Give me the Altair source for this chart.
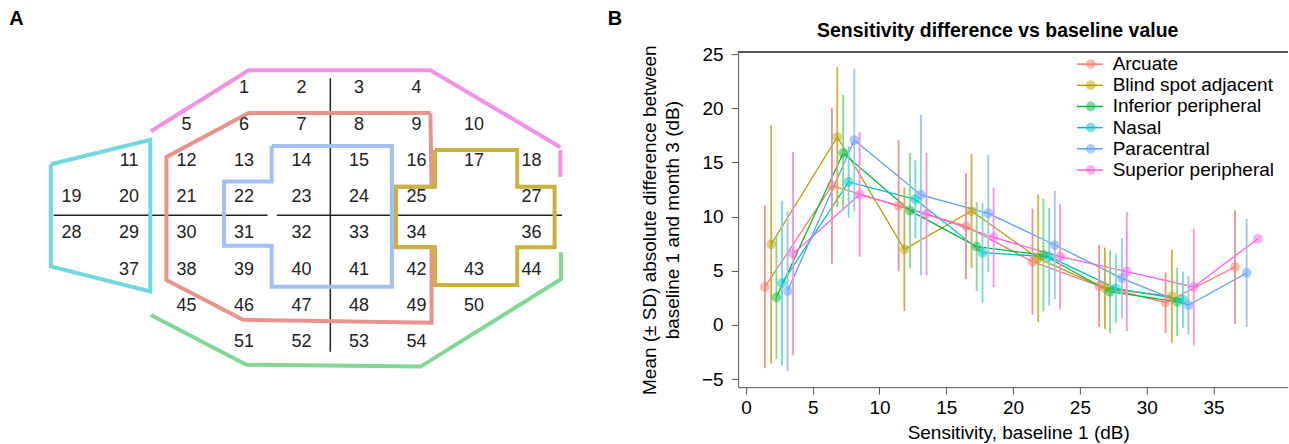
import altair as alt
import pandas as pd

FONT = "Liberation Sans, Arial, Helvetica, sans-serif"
NUM_FONT = "Liberation Sans Narrow, Arial Narrow, Liberation Sans, Arial, sans-serif"

# ---------------- Panel B data ----------------
series_names = ["Arcuate", "Blind spot adjacent", "Inferior peripheral",
                "Nasal", "Paracentral", "Superior peripheral"]
series_colors = ["#F8766D", "#B79F00", "#00BA38", "#00BFC4", "#619CFF", "#F564E3"]

arcuate_x = [1.42, 6.44, 11.43, 16.47, 21.45, 26.44, 31.41, 36.61]
arcuate_mean = [3.51, 12.86, 11.00, 9.13, 5.84, 3.60, 2.06, 5.35]
arcuate_sd = [7.5, 7.2, 6.05, 4.9, 4.9, 3.8, 2.8, 5.25]

blind_x = [1.89, 6.84, 11.86, 16.89, 21.88, 26.87, 31.88]
blind_mean = [7.44, 17.35, 6.98, 10.52, 6.15, 3.39, 2.65]
blind_sd = [11.0, 6.46, 5.7, 5.27, 5.9, 3.75, 4.3]

inferior_x = [2.28, 7.28, 12.28, 17.27, 22.27, 27.26, 32.28]
inferior_mean = [2.55, 15.88, 10.55, 7.23, 6.46, 3.07, 2.13]
inferior_sd = [5.7, 5.35, 5.33, 4.1, 5.2, 3.8, 3.15]

nasal_x = [2.70, 7.69, 12.68, 17.71, 22.70, 27.69, 32.71]
nasal_mean = [3.86, 13.20, 11.60, 6.67, 6.30, 3.39, 2.34]
nasal_sd = [7.6, 3.3, 3.6, 4.6, 4.5, 3.2, 2.6]

para_x = [3.12, 8.11, 13.10, 18.14, 23.12, 28.14, 33.12, 37.48]
para_mean = [3.13, 17.07, 12.00, 10.30, 7.38, 4.31, 1.82, 4.80]
para_sd = [7.4, 6.6, 7.4, 5.4, 5.0, 3.7, 2.7, 5.0]

sup_x = [3.53, 8.51, 13.52, 18.54, 23.52, 28.51, 33.52, 38.32]
sup_mean = [6.58, 12.05, 10.24, 8.09, 6.30, 4.92, 3.51, 7.96]
sup_sd = [9.4, 5.75, 5.66, 4.6, 4.86, 5.5, 5.4, None]

y_ticks = [-5, 0, 5, 10, 15, 20, 25]
x_ticks = [0, 5, 10, 15, 20, 25, 30, 35]

# ---------------- Panel A data (grid units: column c, row r) ----------------
number_rows = [
    ([1, 2, 3, 4], [3, 4, 5, 6]),
    ([5, 6, 7, 8, 9, 10], [2, 3, 4, 5, 6, 7]),
    ([11, 12, 13, 14, 15, 16, 17, 18], [1, 2, 3, 4, 5, 6, 7, 8]),
    ([19, 20, 21, 22, 23, 24, 25, 27], [0, 1, 2, 3, 4, 5, 6, 8]),
    ([28, 29, 30, 31, 32, 33, 34, 36], [0, 1, 2, 3, 4, 5, 6, 8]),
    ([37, 38, 39, 40, 41, 42, 43, 44], [1, 2, 3, 4, 5, 6, 7, 8]),
    ([45, 46, 47, 48, 49, 50], [2, 3, 4, 5, 6, 7]),
    ([51, 52, 53, 54], [3, 4, 5, 6]),
]

outline_pink_1 = [(1.38, 1.18), (3.08, -0.5), (6.24, -0.5), (8.5, 1.62)]
outline_pink_2 = [(8.5, 1.70), (8.5, 2.44)]
outline_green = [(1.38, 6.25), (3.04, 7.62), (6.07, 7.67), (8.51, 5.26), (8.51, 4.52)]
outline_cyan = [(-0.36, 2.09), (1.37, 1.42), (1.37, 5.60), (-0.36, 4.91), (-0.36, 2.09)]
outline_red = [(6.24, 0.68), (3.08, 0.68), (1.65, 1.89), (1.65, 5.28), (2.98, 6.38),
               (6.26, 6.46), (6.26, 4.37), (5.64, 4.37), (5.64, 2.71), (6.26, 2.71),
               (6.24, 0.68)]
outline_blue = [(3.48, 1.59), (5.57, 1.59), (5.57, 5.47), (3.48, 5.47), (3.48, 4.34),
                (2.65, 4.34), (2.65, 2.57), (3.48, 2.57), (3.48, 1.59)]
outline_gold = [(6.32, 1.70), (7.75, 1.70), (7.75, 2.71), (8.40, 2.71), (8.40, 4.38),
                (7.75, 4.38), (7.75, 5.42), (6.32, 5.42), (6.32, 4.38), (5.64, 4.38),
                (5.64, 2.71), (6.32, 2.71), (6.32, 1.70)]
axis_h_1 = [(-0.31, 3.5), (3.41, 3.5)]
axis_h_2 = [(3.57, 3.5), (8.53, 3.5)]
axis_v = [(4.5, -0.28), (4.5, 7.26)]

region_names = ["Superior peripheral", "Inferior peripheral", "Nasal",
                "Arcuate", "Paracentral", "Blind spot adjacent"]
region_colors = ["#f292e4", "#82d795", "#70d8de", "#e8938e", "#a2c0f2", "#c9b23f"]

panel_letters = ["A", "B"]
panel_letter_c = [-1.0825, 9.326]
panel_letter_r = [-1.7438, -1.7438]

# ---------------- Build tables ----------------
rows = []
for name, xs_, ms, sds in zip(series_names,
                              [arcuate_x, blind_x, inferior_x, nasal_x, para_x, sup_x],
                              [arcuate_mean, blind_mean, inferior_mean, nasal_mean, para_mean, sup_mean],
                              [arcuate_sd, blind_sd, inferior_sd, nasal_sd, para_sd, sup_sd]):
    for x, m, s in zip(xs_, ms, sds):
        rows.append({"series": name, "x": x, "mean": m, "sd": s})
df_b = pd.DataFrame(rows)
df_b["series_pt"] = df_b["series"]
df_b["series_bar"] = df_b["series"]

path_rows = []
for pid, (region, pts) in enumerate([
        ("Superior peripheral", outline_pink_1), ("Superior peripheral", outline_pink_2),
        ("Inferior peripheral", outline_green), ("Nasal", outline_cyan),
        ("Arcuate", outline_red), ("Paracentral", outline_blue),
        ("Blind spot adjacent", outline_gold)]):
    for k, (c, r) in enumerate(pts):
        path_rows.append({"seg": pid, "region": region, "k": k, "c": c, "r": r})
df_paths = pd.DataFrame(path_rows)

axis_rows = []
for pid, pts in enumerate([axis_h_1, axis_h_2, axis_v]):
    for k, (c, r) in enumerate(pts):
        axis_rows.append({"seg": pid, "k": k, "c": c, "r": r})
df_axes = pd.DataFrame(axis_rows)

num_rows = []
for r, (labels, cols) in enumerate(number_rows):
    for lab, c in zip(labels, cols):
        num_rows.append({"label": str(lab), "c": c, "r": r})
df_nums = pd.DataFrame(num_rows)

df_letters = pd.DataFrame({"label": panel_letters, "c": panel_letter_c, "r": panel_letter_r})

# ---------------- Panel A ----------------
PANEL_H = 335.3
A_W = 600
CMIN, CMAX = -71.6 / 57.55, (A_W - 71.6) / 57.55
RMIN, RMAX = (52 - 88.3) / 36.3, (387.3 - 88.3) / 36.3

ax = alt.X("c:Q", scale=alt.Scale(domain=[CMIN, CMAX], nice=False, zero=False), axis=None)
ay = alt.Y("r:Q", scale=alt.Scale(domain=[RMIN, RMAX], nice=False, zero=False, reverse=True), axis=None)

a_axes = alt.Chart(df_axes).mark_line(color="#222222", strokeWidth=1.5).encode(
    x=ax, y=ay, detail="seg:N", order="k:Q")
a_outlines = alt.Chart(df_paths).mark_line(strokeWidth=4).encode(
    x=ax, y=ay,
    color=alt.Color("region:N", scale=alt.Scale(domain=region_names, range=region_colors), legend=None),
    detail="seg:N", order="k:Q")
a_nums = alt.Chart(df_nums).mark_text(font=NUM_FONT, fontSize=18, color="#222222",
                                      align="center", baseline="middle").encode(
    x=ax, y=ay, text="label:N")
a_letters = alt.Chart(df_letters).mark_text(font=FONT, fontSize=20, fontWeight="bold",
                                            color="black", align="left", baseline="alphabetic").encode(
    x=ax, y=ay, text="label:N")

panel_a = alt.layer(a_axes, a_outlines, a_nums, a_letters).properties(width=A_W, height=PANEL_H)

# ---------------- Panel B ----------------
B_W = 550
PX_PER_X = 13.37
XMIN = (738.7 - 746.5) / PX_PER_X
XMAX = XMIN + B_W / PX_PER_X
YMIN, YMAX = -5.738, 25.184
B_LEFT = 738.7

xs = alt.Scale(domain=[XMIN, XMAX], nice=False, zero=False)
ys = alt.Scale(domain=[YMIN, YMAX], nice=False, zero=False)
x_axis = alt.Axis(values=x_ticks, title="Sensitivity, baseline 1 (dB)", titleX=280.3, titleY=51.7,
                  titleAlign="center", titleBaseline="alphabetic", tickSize=7, labelPadding=4,
                  grid=False, domain=True)
y_axis = alt.Axis(values=y_ticks, title=["Mean (\u00b1 SD) absolute difference between",
                                         "baseline 1 and month 3 (dB)"],
                  titleAngle=270, titleX=-82.4, titleY=167.65, titleAlign="center",
                  titleBaseline="alphabetic", titleLineHeight=23, tickSize=7, labelPadding=8,
                  grid=False, domain=True)

bx = alt.X("x:Q", scale=xs, axis=x_axis)
by = alt.Y("mean:Q", scale=ys, axis=y_axis)
# stroke scale: explicit domain; fill/bar scales: data-driven (alphabetical) so legends stay separate
stroke_scale = alt.Scale(domain=series_names, range=series_colors)
fill_scale = alt.Scale(range=series_colors)

base = alt.Chart(df_b)
b_lines = base.mark_line(strokeWidth=1.3).encode(
    x=bx, y=by,
    stroke=alt.Stroke("series:N", scale=stroke_scale, legend=alt.Legend(
        title=None, orient="none", legendX=B_LEFT + 342.5, legendY=2.5,
        symbolType="M-2.6,0L2.6,0", symbolSize=100, symbolStrokeWidth=1.5,
        labelFontSize=19, labelFont=FONT, labelColor="black", labelOffset=13.3,
        labelLimit=400, rowPadding=1.2, padding=0)),
    order="x:Q")
b_bars = base.transform_filter("isValid(datum.sd)").transform_calculate(
    lo="datum.mean - datum.sd", hi="datum.mean + datum.sd").mark_rule(strokeWidth=1.8).encode(
    x=bx, y=alt.Y("lo:Q", scale=ys, axis=y_axis), y2="hi:Q",
    color=alt.Color("series_bar:N", scale=fill_scale, legend=None))
b_points = base.mark_circle(size=95, opacity=0.5).encode(
    x=bx, y=by,
    fill=alt.Fill("series_pt:N", scale=fill_scale, legend=alt.Legend(
        title=None, orient="none", legendX=B_LEFT + 343.4, legendY=2.5, symbolType="circle",
        symbolSize=95, symbolOpacity=0.5, symbolStrokeWidth=0, labelFontSize=19,
        labelFont=FONT, labelOpacity=0, labelOffset=13.3, labelLimit=400,
        rowPadding=1.2, padding=0)))
b_top = base.mark_rule(color="#555555", strokeWidth=1).encode(y=alt.datum(YMAX))

panel_b = alt.layer(b_lines, b_bars, b_points, b_top).properties(
    width=B_W, height=PANEL_H,
    title=alt.Title("Sensitivity difference vs baseline value", font=FONT, fontSize=19.5,
                    fontWeight="bold", color="black", anchor="middle", frame="group",
                    offset=3.7, dx=-15.25, baseline="top"))

chart = alt.hconcat(panel_a, panel_b, spacing=138.7, bounds="flush").properties(
    padding={"left": 0, "top": 9, "right": 0, "bottom": 0}
).configure_view(stroke=None).configure_axis(
    labelFont=FONT, titleFont=FONT, labelFontSize=19, titleFontSize=19,
    labelColor="black", titleColor="black", titleFontWeight="normal",
    domainColor="#555555", tickColor="#555555", domainWidth=1, tickWidth=1)

chart.save("out.html", embed_options={"renderer": "svg", "actions": False})
